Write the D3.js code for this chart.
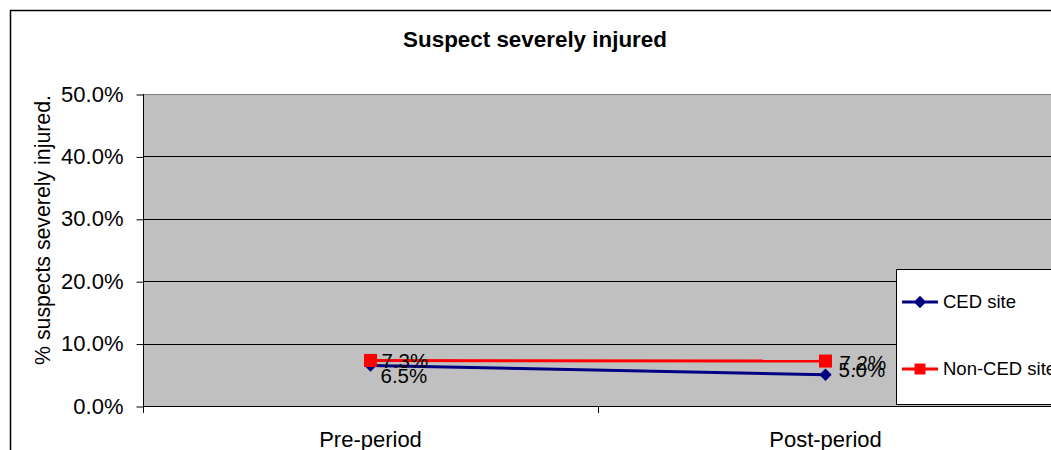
<!DOCTYPE html>
<html>
<head>
<meta charset="utf-8">
<script src="https://cdn.jsdelivr.net/npm/d3@7"></script>
<style>
  html, body { margin: 0; padding: 0; background: #fff; overflow: hidden; }
  text { font-family: "Liberation Sans", Arial, sans-serif; fill: #000; }
</style>
</head>
<body>
<div id="chart"></div>
<script>
// data
var periods = ["Pre-period", "Post-period"];
var seriesNames = ["CED site", "Non-CED site"];
var cedValues = [6.5, 5.0];
var nonCedValues = [7.3, 7.2];
var yTicks = [0, 10, 20, 30, 40, 50];

// small hand nudges of the data labels (they were moved in the original)
var labelNudge = [[-2, 10], [1, -5], [-1, 0], [2, 2]];

var width = 1051,
    height = 450,
    plotLeft = 143,
    plotTop = 94,
    plotBottom = 406,
    plotRight = 1053;

var svg = d3.select("#chart").append("svg")
    .attr("width", width)
    .attr("height", height);

// outer chart border, runs past the right and bottom of the window
svg.append("rect")
    .attr("x", 10.5).attr("y", 10.5)
    .attr("width", 1100).attr("height", 500)
    .attr("fill", "#fff")
    .attr("stroke", "#000")
    .attr("stroke-width", 1.5);

svg.append("text")
    .attr("x", 535).attr("y", 47)
    .attr("text-anchor", "middle")
    .style("font-size", "22.4px")
    .style("font-weight", "bold")
    .text("Suspect severely injured");

var x = d3.scaleBand()
    .domain(periods)
    .range([plotLeft, plotRight]);

var y = d3.scaleLinear()
    .domain([0, 50])
    .range([plotBottom, plotTop]);

// plot area
svg.append("rect")
    .attr("x", plotLeft).attr("y", plotTop)
    .attr("width", plotRight - plotLeft)
    .attr("height", plotBottom - plotTop)
    .attr("fill", "#c0c0c0");

// gridlines
svg.append("g").selectAll("line")
    .data(yTicks.filter(function(d) { return d > 0; }))
  .enter().append("line")
    .attr("x1", plotLeft).attr("x2", plotRight)
    .attr("y1", function(d) { return Math.round(y(d)) + 0.5; })
    .attr("y2", function(d) { return Math.round(y(d)) + 0.5; })
    .attr("stroke", function(d) { return d == 50 ? "#808080" : "#000"; })
    .attr("stroke-width", 1);

// y axis
var yAxis = svg.append("g")
    .attr("transform", "translate(" + (plotLeft + 0.5) + ",0)")
    .call(d3.axisLeft(y)
      .tickValues(yTicks)
      .tickSize(7)
      .tickPadding(13)
      .tickFormat(function(d) { return d.toFixed(1) + "%"; }));
yAxis.select(".domain").attr("d", "M0," + plotTop + "V" + (plotBottom + 7));
yAxis.selectAll(".tick line").attr("transform", "translate(0,0.5)");
yAxis.selectAll("text")
    .style("font-size", "22px")
    .attr("font-family", null);

svg.append("text")
    .attr("transform", "translate(50,230) rotate(-90)")
    .attr("text-anchor", "middle")
    .style("font-size", "21.3px")
    .text("% suspects severely injured.");

// x axis
var xAxis = svg.append("g")
    .attr("transform", "translate(0," + (plotBottom + 0.5) + ")")
    .call(d3.axisBottom(x).tickSize(0).tickPadding(25));
xAxis.select(".domain").attr("d", "M" + plotLeft + ",0H" + plotRight);
xAxis.selectAll("text")
    .style("font-size", "22px")
    .attr("font-family", null);

// category separators
svg.append("g").selectAll("line")
    .data(periods.slice(1))
  .enter().append("line")
    .attr("x1", function(d) { return x(d) + 0.5; })
    .attr("x2", function(d) { return x(d) + 0.5; })
    .attr("y1", plotBottom).attr("y2", plotBottom + 7)
    .attr("stroke", "#000");

svg.selectAll(".domain").attr("stroke", "#000");

var cx = function(d, i) { return x(periods[i]) + x.bandwidth() / 2; };

var line = d3.line()
    .x(function(d, i) { return cx(d, i); })
    .y(function(d) { return y(d); });

var diamond = d3.symbol().type(d3.symbolDiamond2).size(98);
var square = d3.symbol().type(d3.symbolSquare).size(170);

// CED site
svg.append("path")
    .datum(cedValues)
    .attr("d", line)
    .attr("fill", "none")
    .attr("stroke", "#000080")
    .attr("stroke-width", 3);
svg.selectAll(".ced")
    .data(cedValues)
  .enter().append("path")
    .attr("class", "ced")
    .attr("d", diamond)
    .attr("transform", function(d, i) { return "translate(" + cx(d, i) + "," + y(d) + ")"; })
    .attr("fill", "#000080");

// Non-CED site
svg.append("path")
    .datum(nonCedValues)
    .attr("d", line)
    .attr("fill", "none")
    .attr("stroke", "#ff0000")
    .attr("stroke-width", 3);
svg.selectAll(".nonced")
    .data(nonCedValues)
  .enter().append("path")
    .attr("class", "nonced")
    .attr("d", square)
    .attr("transform", function(d, i) { return "translate(" + cx(d, i) + "," + y(d) + ")"; })
    .attr("fill", "#ff0000");

// data labels
var labels = [];
cedValues.forEach(function(v, i) { labels.push({v: v, i: i, k: 0}); });
nonCedValues.forEach(function(v, i) { labels.push({v: v, i: i, k: 1}); });
svg.selectAll(".dlabel")
    .data(labels)
  .enter().append("text")
    .attr("class", "dlabel")
    .attr("x", function(d) { return cx(d.v, d.i) + 12 + labelNudge[d.k * 2 + d.i][0]; })
    .attr("y", function(d) { return y(d.v) + labelNudge[d.k * 2 + d.i][1]; })
    .attr("dy", "0.35em")
    .style("font-size", "20.5px")
    .text(function(d) { return d.v.toFixed(1) + "%"; });

// legend
var legend = svg.append("g").attr("transform", "translate(896,269)");
legend.append("rect")
    .attr("x", 0.5).attr("y", 0.5)
    .attr("width", 200).attr("height", 135)
    .attr("fill", "#fff")
    .attr("stroke", "#000");

var legendY = d3.scalePoint().domain(seriesNames).range([33, 100]);
var legendColor = d3.scaleOrdinal().domain(seriesNames).range(["#000080", "#ff0000"]);

var item = legend.selectAll(".item")
    .data(seriesNames)
  .enter().append("g")
    .attr("class", "item")
    .attr("transform", function(d) { return "translate(0," + legendY(d) + ")"; });
item.append("line")
    .attr("x1", 6).attr("x2", 42)
    .attr("stroke", function(d) { return legendColor(d); })
    .attr("stroke-width", 3);
item.append("path")
    .attr("d", function(d, i) { return i == 0 ? diamond() : d3.symbol().type(d3.symbolSquare).size(120)(); })
    .attr("transform", "translate(24,0)")
    .attr("fill", function(d) { return legendColor(d); });
item.append("text")
    .attr("x", 47)
    .attr("dy", "0.35em")
    .style("font-size", "18.5px")
    .text(function(d) { return d; });
</script>
</body>
</html>
